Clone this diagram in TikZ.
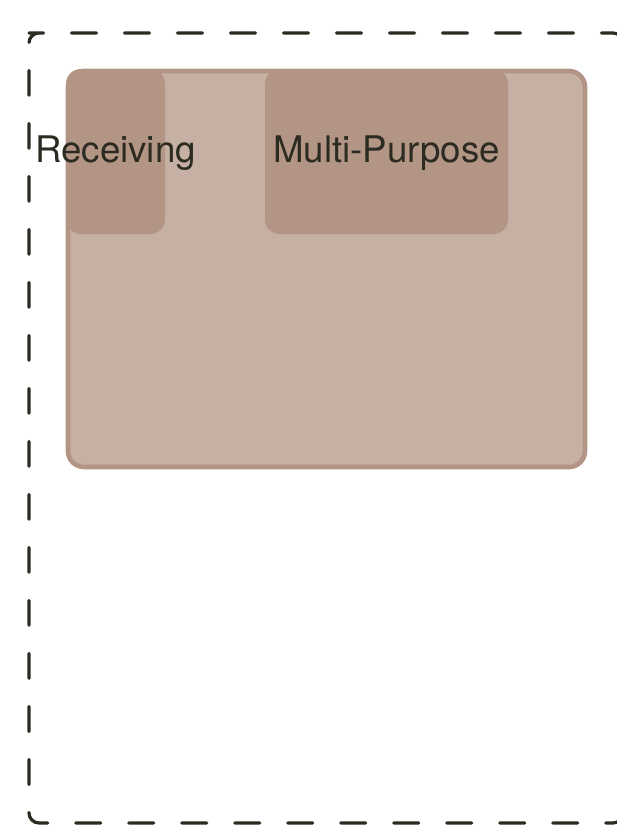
\documentclass[tikz,border=0pt]{standalone}
\usepackage{fontspec}
\setmainfont{TeX Gyre Heros}
\definecolor{roomfill}{HTML}{C6AFA3}
\definecolor{roomdark}{HTML}{B39585}
\definecolor{inkline}{HTML}{2B2B22}
\tikzset{
  zone/.style={draw=roomdark, line width=3.5pt, fill=roomfill, rounded corners=12pt, minimum width=387.75pt, minimum height=297pt, inner sep=0pt},
  area/.style={fill=roomdark, rounded corners=11pt, minimum height=123.75pt, inner sep=0pt},
  areatext/.style={text=inkline, font=\fontsize{27.5}{33}\selectfont, inner sep=0pt, yshift=-1.5pt}
}
\begin{document}
\begin{tikzpicture}[x=0.75pt,y=-0.75pt]
\useasboundingbox (0,0) rectangle (617,826);
\draw[inkline, line width=2.4pt, line cap=round, dash pattern=on 18.75pt off 21pt, rounded corners=7.5pt]
  (39,33) -- (29,33) -- (29,823) -- (623,823) -- (623,33) -- cycle;

\node[zone] (floor) at (326.5,269) {};
\node[area, minimum width=74.25pt] (recv) at (115.5,151.5) {};
\node[area, minimum width=182.25pt] (multi) at (386.5,151.5) {};

\node[areatext] (recvlabel) at (recv.center) {Receiving};
\node[areatext] (multilabel) at (multi.center) {Multi-Purpose};
\end{tikzpicture}
\end{document}
